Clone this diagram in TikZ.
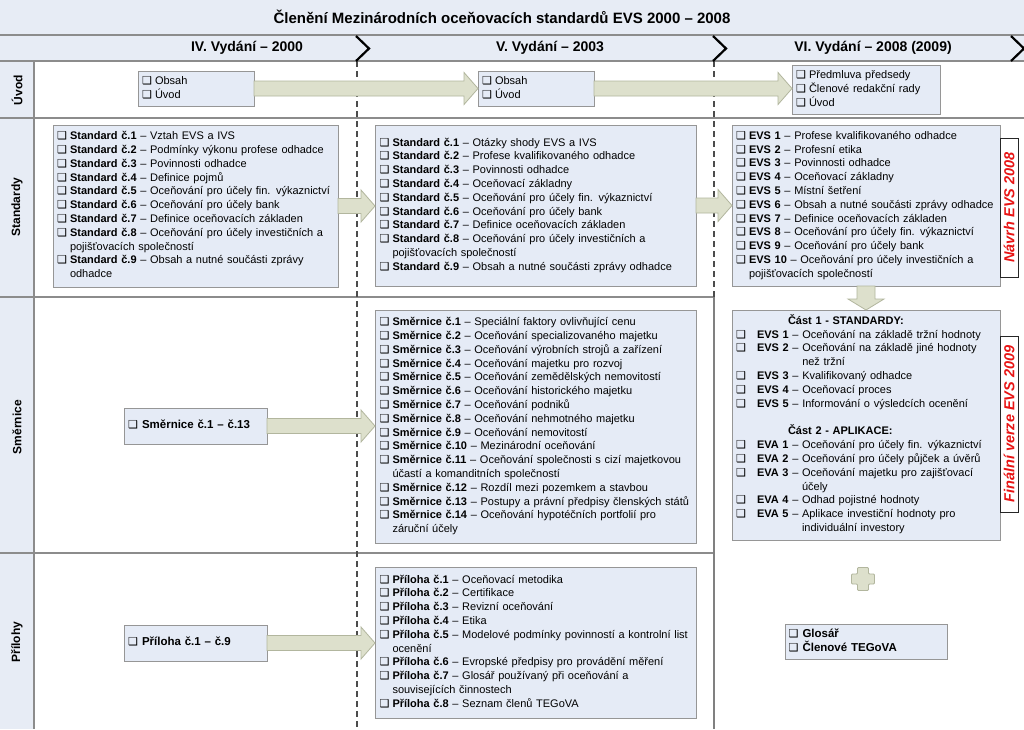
\documentclass[tikz,border=0pt]{standalone}
\usepackage{fontspec}
\setmainfont{Liberation Sans}
\newfontfamily\djv{DejaVu Sans}
\usetikzlibrary{calc,shadows}
\definecolor{band}{RGB}{231,236,245}
\definecolor{boxfill}{RGB}{229,235,246}
\definecolor{boxline}{RGB}{150,150,150}
\definecolor{arrfill}{RGB}{221,224,204}
\definecolor{arrline}{RGB}{178,182,158}
\definecolor{sepc}{RGB}{140,140,140}
\definecolor{redtxt}{RGB}{232,20,20}
\newcommand\cb[1][13pt]{\makebox[#1][l]{\djv\fontsize{11}{11}\selectfont ❑}}
\newcommand\li[2]{\cb\textbf{#1} – #2}
\newcommand\cont{\hspace*{13pt}}
\newcommand\tl[1]{\begin{tabular}{@{}l@{}}#1\end{tabular}}
\newcommand\harrow[2]{%
  \path[blockarrow] let \p1=(#1.east), \p2=(#2.west) in
   ({\x1},{\y1+7.5pt}) -- ({\x2-14pt},{\y1+7.5pt}) -- ({\x2-14pt},{\y1+16pt}) --
   ({\x2},{\y1}) -- ({\x2-14pt},{\y1-16pt}) -- ({\x2-14pt},{\y1-7.5pt}) --
   ({\x1},{\y1-7.5pt}) -- cycle;}
\newcommand\varrow[2]{%
  \path[blockarrow] let \p1=(#1.south), \p2=(#2.north) in
   ({\x1-9pt},{\y1}) -- ({\x1-9pt},{\y2+11pt}) -- ({\x1-18pt},{\y2+11pt}) --
   ({\x1},{\y2}) -- ({\x1+18pt},{\y2+11pt}) -- ({\x1+9pt},{\y2+11pt}) --
   ({\x1+9pt},{\y1}) -- cycle;}
\tikzset{
  lst/.style={draw=boxline, fill=boxfill, line width=0.8pt, anchor=north west,
    inner xsep=4pt, inner ysep=0pt, outer sep=0pt, align=left,
    font=\fontsize{11}{13.8}\selectfont,
    drop shadow={shadow xshift=1pt, shadow yshift=-1pt, opacity=0.25}},
  blockarrow/.style={draw=arrline, fill=arrfill, line width=0.8pt, line join=miter},
  sepline/.style={draw=sepc, line width=1.2pt},
  divdash/.style={draw=black!70, line width=1.1pt, dash pattern=on 6pt off 4pt},
  divsolid/.style={draw=black!50, line width=1.8pt},
  chev/.style={draw=black, line width=2.2pt, line join=miter},
  lane/.style={rotate=90, font=\bfseries\fontsize{12}{14}\selectfont},
  hdr/.style={font=\bfseries\fontsize{14}{16}\selectfont},
  redlbl/.style={rotate=90, draw=black!85, fill=white, line width=0.9pt,
    minimum height=18pt, inner sep=0pt, outer sep=0pt, text=redtxt,
    font=\bfseries\itshape\fontsize{14.5}{15}\selectfont}
}
\begin{document}
\begin{tikzpicture}[x=1pt,y=-1pt]
\useasboundingbox (0,0) rectangle (1024,729);
\fill[white] (0,0) rectangle (1024,729);
% bands
\fill[band] (0,0) rectangle (1024,61);
\fill[band] (0,61) rectangle (34,729);
\draw[sepline] (0,35) -- (1024,35);
\draw[sepline] (0,61) -- (1024,61);
\draw[sepline] (34,61) -- (34,729);
\draw[sepline] (0,118) -- (1024,118);
\draw[sepline] (0,297) -- (714,297);
\draw[sepline] (0,553) -- (714,553);
% column dividers
\draw[divdash] (357,61) -- (357,729);
\draw[divdash] (714,61) -- (714,297);
\draw[divsolid] (714,297) -- (714,729);
% chevrons
\draw[chev] (356,36) -- (369,48.5) -- (356,61);
\draw[chev] (713,36) -- (726,48.5) -- (713,61);
\draw[chev] (1011,36) -- (1024,48.5) -- (1011,61);
% title and headers
\node[font=\bfseries\fontsize{15}{18}\selectfont] (title) at (502,17)
  {Členění Mezinárodních oceňovacích standardů EVS 2000 – 2008};
\node[hdr] (h4) at (247,48) {IV. Vydání – 2000};
\node[hdr] (h5) at (550,48) {V. Vydání – 2003};
\node[hdr] (h6) at (873,48) {VI. Vydání – 2008 (2009)};
% lane labels
\node[lane] (l1) at (17,90) {Úvod};
\node[lane] (l2) at (17,207) {Standardy};
\node[lane] (l3) at (17,427) {Směrnice};
\node[lane] (l4) at (17,642) {Přílohy};
% Úvod
\node[lst, minimum width=116pt, minimum height=35pt, text width=108pt] (u4) at (138,71)
  {\tl{\cb Obsah\\ \cb Úvod}};
\node[lst, minimum width=116pt, minimum height=35pt, text width=108pt] (u5) at (478,71)
  {\tl{\cb Obsah\\ \cb Úvod}};
\node[lst, minimum width=148pt, minimum height=49pt, text width=140pt] (u6) at (792,65)
  {\tl{\cb Předmluva předsedy\\ \cb Členové redakční rady\\ \cb Úvod}};
% Standardy
\node[lst, minimum width=285pt, minimum height=162pt, text width=277pt] (s4) at (53,125)
  {\tl{\li{Standard č.1}{Vztah EVS a IVS}\\
  \li{Standard č.2}{Podmínky výkonu profese odhadce}\\
  \li{Standard č.3}{Povinnosti odhadce}\\
  \li{Standard č.4}{Definice pojmů}\\
  \li{Standard č.5}{Oceňování pro účely fin. výkaznictví}\\
  \li{Standard č.6}{Oceňování pro účely bank}\\
  \li{Standard č.7}{Definice oceňovacích základen}\\
  \li{Standard č.8}{Oceňování pro účely investičních a}\\
  \cont pojišťovacích společností\\
  \li{Standard č.9}{Obsah a nutné součásti zprávy}\\
  \cont odhadce}};
\node[lst, minimum width=321pt, minimum height=161pt, text width=312pt, inner xsep=4.5pt] (s5) at (375,125)
  {\tl{\li{Standard č.1}{Otázky shody EVS a IVS}\\
  \li{Standard č.2}{Profese kvalifikovaného odhadce}\\
  \li{Standard č.3}{Povinnosti odhadce}\\
  \li{Standard č.4}{Oceňovací základny}\\
  \li{Standard č.5}{Oceňování pro účely fin. výkaznictví}\\
  \li{Standard č.6}{Oceňování pro účely bank}\\
  \li{Standard č.7}{Definice oceňovacích základen}\\
  \li{Standard č.8}{Oceňování pro účely investičních a}\\
  \cont pojišťovacích společností\\
  \li{Standard č.9}{Obsah a nutné součásti zprávy odhadce}}};
\node[lst, minimum width=268pt, minimum height=161pt, text width=260pt] (s6) at (732,125)
  {\tl{\li{EVS 1}{Profese kvalifikovaného odhadce}\\
  \li{EVS 2}{Profesní etika}\\
  \li{EVS 3}{Povinnosti odhadce}\\
  \li{EVS 4}{Oceňovací základny}\\
  \li{EVS 5}{Místní šetření}\\
  \li{EVS 6}{Obsah a nutné součásti zprávy odhadce}\\
  \li{EVS 7}{Definice oceňovacích základen}\\
  \li{EVS 8}{Oceňování pro účely fin. výkaznictví}\\
  \li{EVS 9}{Oceňování pro účely bank}\\
  \li{EVS 10}{Oceňování pro účely investičních a}\\
  \cont pojišťovacích společností}};
% Směrnice
\node[lst, minimum width=143pt, minimum height=36pt, text width=135pt,
  font=\bfseries\fontsize{11.5}{14}\selectfont] (m4) at (124,408)
  {\tl{\cb[14pt]Směrnice č.1 – č.13}};
\node[lst, minimum width=321pt, minimum height=233pt, text width=312pt, inner xsep=4.5pt] (m5) at (375,310)
  {\tl{\li{Směrnice č.1}{Speciální faktory ovlivňující cenu}\\
  \li{Směrnice č.2}{Oceňování specializovaného majetku}\\
  \li{Směrnice č.3}{Oceňování výrobních strojů a zařízení}\\
  \li{Směrnice č.4}{Oceňování majetku pro rozvoj}\\
  \li{Směrnice č.5}{Oceňování zemědělských nemovitostí}\\
  \li{Směrnice č.6}{Oceňování historického majetku}\\
  \li{Směrnice č.7}{Oceňování podniků}\\
  \li{Směrnice č.8}{Oceňování nehmotného majetku}\\
  \li{Směrnice č.9}{Oceňování nemovitostí}\\
  \li{Směrnice č.10}{Mezinárodní oceňování}\\
  \li{Směrnice č.11}{Oceňování společnosti s cizí majetkovou}\\
  \cont účastí a komanditních společností\\
  \li{Směrnice č.12}{Rozdíl mezi pozemkem a stavbou}\\
  \li{Směrnice č.13}{Postupy a právní předpisy členských států}\\
  \li{Směrnice č.14}{Oceňování hypotéčních portfolií pro}\\
  \cont záruční účely}};
% Přílohy
\node[lst, minimum width=143pt, minimum height=36pt, text width=135pt,
  font=\bfseries\fontsize{11.5}{14}\selectfont] (p4) at (124,625)
  {\tl{\cb[14pt]Příloha č.1 – č.9}};
\node[lst, minimum width=321pt, minimum height=151pt, text width=312pt, inner xsep=4.5pt] (p5) at (375,567)
  {\tl{\li{Příloha č.1}{Oceňovací metodika}\\
  \li{Příloha č.2}{Certifikace}\\
  \li{Příloha č.3}{Revizní oceňování}\\
  \li{Příloha č.4}{Etika}\\
  \li{Příloha č.5}{Modelové podmínky povinností a kontrolní list}\\
  \cont ocenění\\
  \li{Příloha č.6}{Evropské předpisy pro provádění měření}\\
  \li{Příloha č.7}{Glosář používaný při oceňování a}\\
  \cont souvisejících činnostech\\
  \li{Příloha č.8}{Seznam členů TEGoVA}}};
% VI final
\node[lst, minimum width=268pt, minimum height=230pt, text width=260pt] (c6) at (732,310)
  {\tl{\hspace*{52pt}\textbf{Část 1 - STANDARDY:}\\
  \cb[21pt]\textbf{EVS 1} – Oceňování na základě tržní hodnoty\\
  \cb[21pt]\textbf{EVS 2} – Oceňování na základě jiné hodnoty\\
  \hspace*{21pt}\phantom{\textbf{EVS 2} – }než tržní\\
  \cb[21pt]\textbf{EVS 3} – Kvalifikovaný odhadce\\
  \cb[21pt]\textbf{EVS 4} – Oceňovací proces\\
  \cb[21pt]\textbf{EVS 5} – Informování o výsledcích ocenění\\
  \mbox{}\\
  \hspace*{52pt}\textbf{Část 2 - APLIKACE:}\\
  \cb[21pt]\textbf{EVA 1} – Oceňování pro účely fin. výkaznictví\\
  \cb[21pt]\textbf{EVA 2} – Oceňování pro účely půjček a úvěrů\\
  \cb[21pt]\textbf{EVA 3} – Oceňování majetku pro zajišťovací\\
  \hspace*{21pt}\phantom{\textbf{EVA 3} – }účely\\
  \cb[21pt]\textbf{EVA 4} – Odhad pojistné hodnoty\\
  \cb[21pt]\textbf{EVA 5} – Aplikace investiční hodnoty pro\\
  \hspace*{21pt}\phantom{\textbf{EVA 5} – }individuální investory}};
\node[lst, minimum width=162pt, minimum height=35pt, text width=155pt, inner xsep=3.5pt,
  font=\bfseries\fontsize{11.5}{14}\selectfont] (g6) at (785,624)
  {\tl{\cb[14pt]Glosář\\ \cb[14pt]Členové TEGoVA}};
% red labels
\node[redlbl, minimum width=139pt] (n6) at (1009,207.5) {Návrh EVS 2008};
\node[redlbl, minimum width=176pt] (f6) at (1009,424) {Finální verze EVS 2009};
% arrows
\harrow{u4}{u5}
\harrow{u5}{u6}
\harrow{s4}{s5}
\harrow{s5}{s6}
\harrow{m4}{m5}
\harrow{p4}{p5}
\varrow{s6}{c6}
% plus
\draw[blockarrow, rounded corners=1pt] (857.5,567.5) -- (868.5,567.5) -- (868.5,574) --
  (874.5,574) -- (874.5,584) -- (868.5,584) -- (868.5,590.5) -- (857.5,590.5) --
  (857.5,584) -- (851.5,584) -- (851.5,574) -- (857.5,574) -- cycle;
\end{tikzpicture}
\end{document}
